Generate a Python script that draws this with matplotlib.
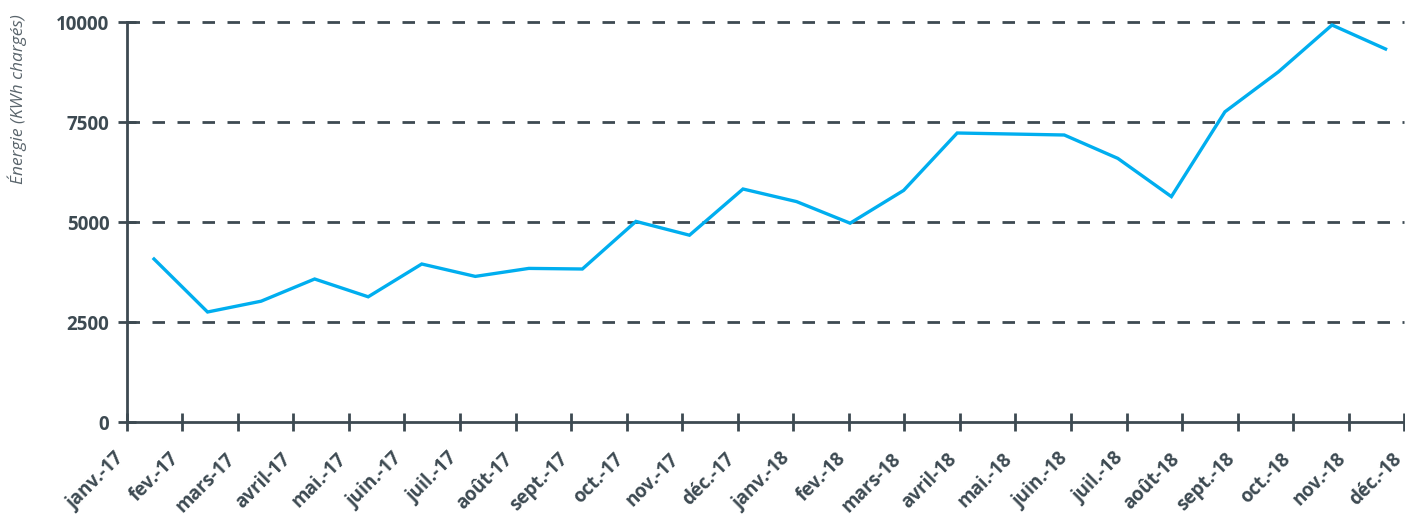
import numpy as np
import matplotlib.pyplot as plt
from matplotlib.transforms import ScaledTranslation

# monthly charged energy (kWh)
months = ["janv.-17", "fev.-17", "mars-17", "avril-17", "mai.-17", "juin.-17",
          "juil.-17", "août-17", "sept.-17", "oct.-17", "nov.-17", "déc.-17",
          "janv.-18", "fev.-18", "mars-18", "avril-18", "mai.-18", "juin.-18",
          "juil.-18", "août-18", "sept.-18", "oct.-18", "nov.-18", "déc.-18"]
energy = [4075, 2750, 3020, 3575, 3130, 3950, 3640, 3840, 3825, 5015, 4670, 5825,
          5510, 4970, 5790, 7225, 7200, 7175, 6590, 5635, 7755, 8755, 9925, 9325]
yticks = [0, 2500, 5000, 7500, 10000]

dark = "#3d4a52"
blue = "#00aeef"
font = ["Open Sans", "DejaVu Sans"]

fig = plt.figure(figsize=(14.05, 5.21), dpi=100)
ax = fig.add_axes([126.7 / 1405, 1 - 422 / 521, (1404.3 - 126.7) / 1405, 400 / 521])

x = np.arange(len(energy))
ax.plot(x, energy, color=blue, linewidth=2.4, solid_joinstyle="miter", zorder=3)

# category ticks sit slightly wider than the point spacing in the original
lo, hi = -0.51, 23.35
tick_pos = np.linspace(lo, hi, len(months))
ax.set_xlim(lo, hi)
ax.set_ylim(0, 10000)
ax.set_xticks(tick_pos)
ax.set_xticklabels([])

# month labels drawn by hand so they can sit a bit left of their tick
lab_tr = ax.get_xaxis_transform() + ScaledTranslation(-13 / 100, -27 / 100,
                                                      fig.dpi_scale_trans)
for pos, m in zip(tick_pos, months):
    ax.text(pos, 0, m, transform=lab_tr, rotation=45, ha="right", va="top",
            rotation_mode="anchor", fontsize=13.5, fontweight="bold",
            color=dark, family=font, clip_on=False)

ax.set_yticks(yticks)
ax.set_yticklabels([str(v) for v in yticks], fontsize=13.5, fontweight="bold",
                   color=dark, family=font)

ax.tick_params(axis="both", direction="inout", length=13, width=2, color=dark)
ax.tick_params(axis="y", pad=6)

for v in yticks[1:]:
    ax.axhline(v, color=dark, linewidth=2, linestyle=(0, (4.5, 4.5)),
               xmin=0, xmax=1, zorder=1, clip_on=False)

for side in ["top", "right"]:
    ax.spines[side].set_visible(False)
for side in ["left", "bottom"]:
    ax.spines[side].set_color(dark)
    ax.spines[side].set_linewidth(2)

fig.text(17 / 1405, 1 - 99 / 521, "Énergie (KWh chargés)", rotation=90,
         ha="center", va="center", fontsize=12.5, style="italic",
         color="#5a656c", family=font)

fig.savefig("out.png", dpi=100)
